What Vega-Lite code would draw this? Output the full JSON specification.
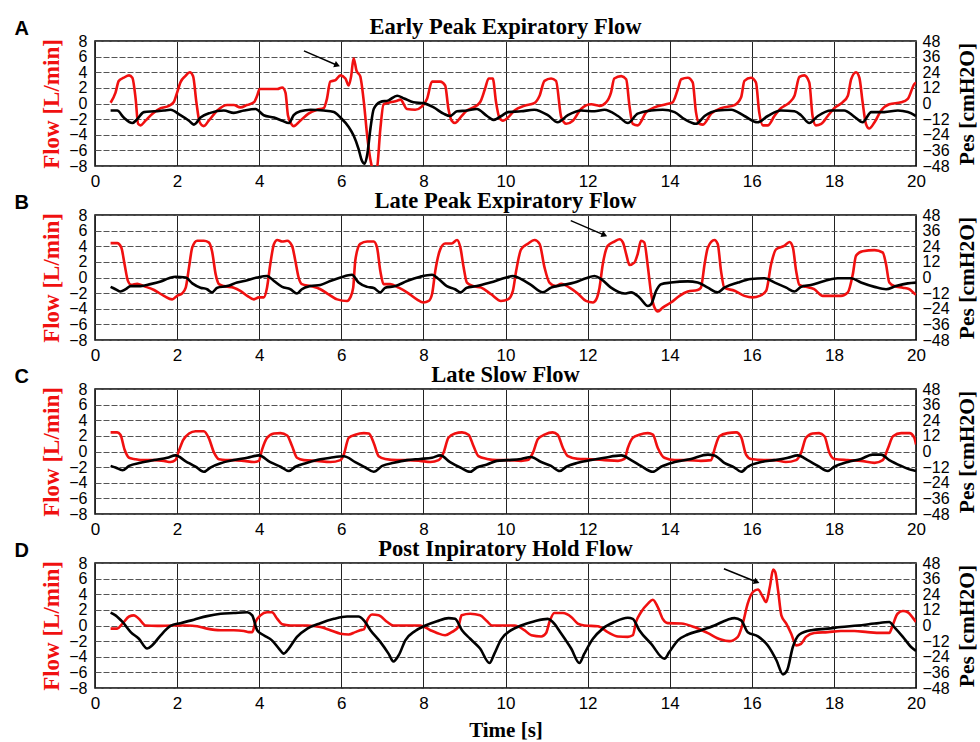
{
"$schema": "https://vega.github.io/schema/vega-lite/v6.json",
"background": "white",
"padding": {"left": 13, "top": 14, "right": 0, "bottom": 0},
"spacing": 49,
"bounds": "flush",
"config": {
 "view": {"stroke": "#000", "strokeWidth": 1.5},
 "title": {"font": "Liberation Serif", "fontWeight": "bold", "fontSize": 22.5, "color": "#000", "anchor": "middle", "frame": "group", "offset": -20},
 "axis": {"labelFont": "Liberation Sans", "labelFontSize": 17, "labelColor": "#000", "labelFlush": false, "labelOverlap": false, "ticks": false, "domain": false, "titleFont": "Liberation Serif", "titleFontWeight": "bold", "titleFontSize": 23, "titleColor": "#000"},
 "axisBottom": {"grid": true, "gridColor": "#222", "gridOpacity": 1, "gridWidth": 1, "labelPadding": 7, "titlePadding": 8, "titleFontSize": 21},
 "axisLeft": {"grid": true, "gridColor": "#555", "gridDash": [6, 2], "gridWidth": 1, "gridOpacity": 1, "labelPadding": 8, "labelFontSize": 16, "titleColor": "#f01010", "titlePadding": 5},
 "axisRight": {"grid": false, "labelPadding": 6, "labelFontSize": 16, "titleAngle": 270, "titlePadding": 29, "titleFontSize": 21.5},
 "axisTop": {"grid": false, "labels": false, "titleFont": "Liberation Sans", "titleFontSize": 20, "titleAngle": 0, "titleX": -81, "titleY": -7, "titleAlign": "left", "titleBaseline": "alphabetic"}
},
"datasets": {
 "arrows": [
  {"panel": "A", "x1": 5.09, "y1": 6.73, "x2": 5.9, "y2": 4.9},
  {"panel": "B", "x1": 11.59, "y1": 7.28, "x2": 12.41, "y2": 5.43},
  {"panel": "D", "x1": 15.32, "y1": 7.27, "x2": 16.12, "y2": 5.57}
 ],
 "A_flow": [{"t":0.38,"v":0.1},{"t":0.5,"v":1.4},{"t":0.58,"v":2.9},{"t":0.7,"v":3.3},{"t":0.83,"v":3.6},{"t":0.91,"v":3.3},{"t":0.99,"v":0.6},{"t":1.05,"v":-2.6},{"t":1.11,"v":-2.8},{"t":1.23,"v":-2.2},{"t":1.4,"v":-1.3},{"t":1.6,"v":-0.6},{"t":1.8,"v":-0.3},{"t":1.92,"v":0.2},{"t":2.0,"v":1.4},{"t":2.08,"v":2.7},{"t":2.2,"v":3.5},{"t":2.31,"v":4.0},{"t":2.39,"v":3.5},{"t":2.47,"v":0.15},{"t":2.55,"v":-2.4},{"t":2.65,"v":-2.9},{"t":2.77,"v":-2.2},{"t":2.98,"v":-0.9},{"t":3.22,"v":-0.2},{"t":3.38,"v":-0.2},{"t":3.54,"v":-0.5},{"t":3.7,"v":-0.2},{"t":3.87,"v":0.15},{"t":3.95,"v":1.0},{"t":4.01,"v":1.85},{"t":4.19,"v":1.85},{"t":4.44,"v":1.85},{"t":4.56,"v":2.05},{"t":4.64,"v":1.4},{"t":4.7,"v":-1.5},{"t":4.78,"v":-2.6},{"t":4.84,"v":-2.9},{"t":5.0,"v":-2.2},{"t":5.2,"v":-1.3},{"t":5.41,"v":-0.8},{"t":5.57,"v":-0.6},{"t":5.65,"v":0.6},{"t":5.73,"v":2.8},{"t":5.86,"v":3.0},{"t":5.98,"v":3.6},{"t":6.1,"v":3.2},{"t":6.18,"v":2.3},{"t":6.24,"v":3.5},{"t":6.3,"v":5.8},{"t":6.37,"v":4.2},{"t":6.46,"v":3.5},{"t":6.55,"v":0.15},{"t":6.63,"v":-4.1},{"t":6.72,"v":-7.5},{"t":6.79,"v":-8.6},{"t":6.87,"v":-8.2},{"t":6.95,"v":-3.3},{"t":7.03,"v":-0.1},{"t":7.19,"v":0.15},{"t":7.36,"v":0.35},{"t":7.44,"v":0.5},{"t":7.6,"v":-0.7},{"t":7.8,"v":-0.8},{"t":7.96,"v":-0.4},{"t":8.09,"v":0.6},{"t":8.21,"v":2.8},{"t":8.41,"v":2.8},{"t":8.53,"v":2.3},{"t":8.61,"v":-0.7},{"t":8.69,"v":-2.2},{"t":8.77,"v":-2.5},{"t":8.9,"v":-1.8},{"t":9.06,"v":-0.9},{"t":9.22,"v":-0.5},{"t":9.38,"v":0.15},{"t":9.5,"v":1.85},{"t":9.59,"v":3.2},{"t":9.69,"v":3.2},{"t":9.77,"v":0.15},{"t":9.85,"v":-1.8},{"t":9.94,"v":-2.2},{"t":10.06,"v":-1.8},{"t":10.22,"v":-0.9},{"t":10.46,"v":-0.3},{"t":10.7,"v":0.05},{"t":10.83,"v":1.0},{"t":10.95,"v":2.9},{"t":11.11,"v":3.2},{"t":11.23,"v":2.9},{"t":11.36,"v":-1.8},{"t":11.48,"v":-2.6},{"t":11.64,"v":-2.2},{"t":11.84,"v":-0.7},{"t":12.09,"v":-0.1},{"t":12.29,"v":-0.3},{"t":12.45,"v":0.15},{"t":12.57,"v":1.4},{"t":12.65,"v":3.2},{"t":12.82,"v":3.5},{"t":12.94,"v":3.1},{"t":13.02,"v":-0.3},{"t":13.1,"v":-2.6},{"t":13.22,"v":-2.8},{"t":13.43,"v":-1.1},{"t":13.63,"v":-0.5},{"t":13.91,"v":-0.1},{"t":14.07,"v":0.15},{"t":14.2,"v":1.85},{"t":14.28,"v":3.1},{"t":14.44,"v":3.3},{"t":14.56,"v":2.7},{"t":14.64,"v":-1.1},{"t":14.72,"v":-2.6},{"t":14.81,"v":-2.7},{"t":15.01,"v":-1.3},{"t":15.25,"v":-0.6},{"t":15.58,"v":-0.2},{"t":15.74,"v":0.8},{"t":15.82,"v":2.9},{"t":15.98,"v":3.3},{"t":16.1,"v":2.7},{"t":16.18,"v":-1.1},{"t":16.27,"v":-2.8},{"t":16.39,"v":-2.8},{"t":16.55,"v":-1.6},{"t":16.71,"v":-0.6},{"t":16.92,"v":0.15},{"t":17.04,"v":1.0},{"t":17.16,"v":3.4},{"t":17.28,"v":3.6},{"t":17.4,"v":2.7},{"t":17.48,"v":-1.6},{"t":17.56,"v":-2.8},{"t":17.69,"v":-2.6},{"t":17.85,"v":-1.6},{"t":18.01,"v":-0.6},{"t":18.21,"v":0.15},{"t":18.34,"v":1.0},{"t":18.42,"v":3.1},{"t":18.54,"v":4.0},{"t":18.62,"v":3.3},{"t":18.7,"v":0.15},{"t":18.78,"v":-2.6},{"t":18.86,"v":-3.2},{"t":18.99,"v":-2.4},{"t":19.15,"v":-0.9},{"t":19.35,"v":-0.1},{"t":19.64,"v":0.15},{"t":19.8,"v":0.6},{"t":19.96,"v":2.5},{"t":20.0,"v":2.7}],
 "A_pes": [{"t":0.38,"v":-5.4},{"t":0.54,"v":-5.4},{"t":0.7,"v":-10.8},{"t":0.91,"v":-15},{"t":1.03,"v":-12},{"t":1.19,"v":-6.6},{"t":1.44,"v":-6},{"t":1.68,"v":-5.4},{"t":1.84,"v":-4.8},{"t":2.08,"v":-9},{"t":2.29,"v":-13.2},{"t":2.41,"v":-16.2},{"t":2.57,"v":-10.8},{"t":2.81,"v":-7.2},{"t":3.14,"v":-5.4},{"t":3.38,"v":-7.2},{"t":3.63,"v":-5.4},{"t":3.91,"v":-4.2},{"t":4.11,"v":-9},{"t":4.36,"v":-10.8},{"t":4.56,"v":-13.2},{"t":4.72,"v":-15},{"t":4.84,"v":-9},{"t":5.0,"v":-6},{"t":5.25,"v":-4.8},{"t":5.57,"v":-5.4},{"t":5.82,"v":-6.6},{"t":5.98,"v":-10.8},{"t":6.18,"v":-18},{"t":6.3,"v":-24.6},{"t":6.42,"v":-34.8},{"t":6.5,"v":-43.8},{"t":6.57,"v":-46.2},{"t":6.63,"v":-39.6},{"t":6.71,"v":-19.2},{"t":6.79,"v":-4.2},{"t":6.95,"v":1.2},{"t":7.15,"v":2.4},{"t":7.36,"v":6},{"t":7.53,"v":3.9},{"t":7.76,"v":0.9},{"t":8.0,"v":0.3},{"t":8.25,"v":-3},{"t":8.49,"v":-7.8},{"t":8.65,"v":-9.6},{"t":8.82,"v":-6},{"t":9.06,"v":-5.4},{"t":9.3,"v":-4.2},{"t":9.55,"v":-9.6},{"t":9.71,"v":-12.6},{"t":9.9,"v":-9.6},{"t":10.06,"v":-6.6},{"t":10.38,"v":-6},{"t":10.7,"v":-4.8},{"t":11.03,"v":-9},{"t":11.27,"v":-14.4},{"t":11.52,"v":-9},{"t":11.84,"v":-5.4},{"t":12.17,"v":-6},{"t":12.41,"v":-4.8},{"t":12.74,"v":-9.6},{"t":12.98,"v":-15},{"t":13.22,"v":-7.8},{"t":13.55,"v":-5.4},{"t":13.83,"v":-4.8},{"t":14.12,"v":-6.6},{"t":14.36,"v":-12},{"t":14.64,"v":-15.6},{"t":14.85,"v":-9.6},{"t":15.17,"v":-5.4},{"t":15.5,"v":-4.8},{"t":15.82,"v":-9.6},{"t":16.14,"v":-14.4},{"t":16.39,"v":-9.6},{"t":16.71,"v":-5.4},{"t":17.04,"v":-6},{"t":17.2,"v":-9},{"t":17.4,"v":-15},{"t":17.61,"v":-9.6},{"t":17.93,"v":-5.4},{"t":18.25,"v":-5.4},{"t":18.5,"v":-10.2},{"t":18.7,"v":-14.4},{"t":18.91,"v":-6.6},{"t":19.23,"v":-6.6},{"t":19.56,"v":-5.4},{"t":19.8,"v":-6.6},{"t":20.0,"v":-9.6}],
 "B_flow": [{"t":0.38,"v":4.4},{"t":0.54,"v":4.4},{"t":0.64,"v":3.85},{"t":0.72,"v":1.7},{"t":0.8,"v":-0.4},{"t":0.88,"v":-0.95},{"t":1.03,"v":-0.8},{"t":1.19,"v":-1.1},{"t":1.44,"v":-1.6},{"t":1.68,"v":-2.35},{"t":1.88,"v":-2.8},{"t":2.0,"v":-2.35},{"t":2.12,"v":-2.05},{"t":2.21,"v":-1.3},{"t":2.29,"v":1.3},{"t":2.37,"v":3.85},{"t":2.49,"v":4.7},{"t":2.65,"v":4.7},{"t":2.77,"v":4.5},{"t":2.85,"v":3.4},{"t":2.94,"v":0.4},{"t":3.02,"v":-0.85},{"t":3.14,"v":-1.1},{"t":3.38,"v":-1.3},{"t":3.54,"v":-1.7},{"t":3.71,"v":-2.35},{"t":3.87,"v":-2.8},{"t":3.99,"v":-2.55},{"t":4.11,"v":-2.55},{"t":4.19,"v":-1.3},{"t":4.27,"v":1.7},{"t":4.36,"v":4.3},{"t":4.44,"v":4.8},{"t":4.56,"v":4.6},{"t":4.68,"v":4.7},{"t":4.8,"v":4.05},{"t":4.88,"v":2.15},{"t":4.96,"v":0},{"t":5.04,"v":-0.85},{"t":5.25,"v":-1.1},{"t":5.49,"v":-1.5},{"t":5.69,"v":-2.15},{"t":5.9,"v":-2.8},{"t":6.14,"v":-3.0},{"t":6.22,"v":-2.55},{"t":6.29,"v":-1.3},{"t":6.34,"v":2.15},{"t":6.46,"v":4.3},{"t":6.63,"v":4.6},{"t":6.79,"v":4.6},{"t":6.87,"v":3.85},{"t":6.95,"v":0.85},{"t":7.03,"v":-0.85},{"t":7.19,"v":-0.85},{"t":7.4,"v":-1.3},{"t":7.6,"v":-1.9},{"t":7.84,"v":-2.8},{"t":8.0,"v":-3.2},{"t":8.13,"v":-3.0},{"t":8.21,"v":-2.15},{"t":8.29,"v":0.85},{"t":8.41,"v":3.6},{"t":8.53,"v":4.35},{"t":8.69,"v":4.35},{"t":8.82,"v":4.8},{"t":8.9,"v":3.85},{"t":8.98,"v":1.3},{"t":9.06,"v":-0.65},{"t":9.22,"v":-1.1},{"t":9.41,"v":-1.3},{"t":9.65,"v":-2.15},{"t":9.89,"v":-3.0},{"t":10.06,"v":-2.8},{"t":10.18,"v":-1.7},{"t":10.26,"v":0.85},{"t":10.38,"v":3.6},{"t":10.54,"v":4.3},{"t":10.71,"v":4.8},{"t":10.83,"v":4.3},{"t":10.95,"v":1.3},{"t":11.07,"v":-0.65},{"t":11.23,"v":-1.1},{"t":11.36,"v":-0.8},{"t":11.56,"v":-1.3},{"t":11.76,"v":-2.05},{"t":11.96,"v":-3.0},{"t":12.13,"v":-3.2},{"t":12.21,"v":-2.8},{"t":12.29,"v":-1.3},{"t":12.37,"v":1.7},{"t":12.49,"v":4.05},{"t":12.65,"v":4.6},{"t":12.78,"v":4.9},{"t":12.86,"v":4.5},{"t":12.94,"v":3.0},{"t":13.02,"v":1.6},{"t":13.14,"v":1.9},{"t":13.22,"v":3.0},{"t":13.3,"v":4.7},{"t":13.38,"v":4.5},{"t":13.47,"v":1.3},{"t":13.55,"v":-2.15},{"t":13.63,"v":-3.85},{"t":13.71,"v":-4.35},{"t":13.83,"v":-3.85},{"t":14.03,"v":-3.2},{"t":14.24,"v":-2.35},{"t":14.44,"v":-1.8},{"t":14.68,"v":-1.6},{"t":14.76,"v":-1.3},{"t":14.85,"v":1.7},{"t":14.93,"v":3.85},{"t":15.09,"v":4.8},{"t":15.17,"v":4.3},{"t":15.25,"v":0.85},{"t":15.33,"v":-1.3},{"t":15.58,"v":-1.7},{"t":15.82,"v":-2.35},{"t":16.02,"v":-2.55},{"t":16.19,"v":-2.35},{"t":16.35,"v":-1.7},{"t":16.47,"v":1.7},{"t":16.59,"v":3.6},{"t":16.79,"v":4.05},{"t":16.92,"v":4.55},{"t":17.0,"v":3.85},{"t":17.08,"v":0.85},{"t":17.16,"v":-0.95},{"t":17.32,"v":-1.2},{"t":17.52,"v":-1.5},{"t":17.73,"v":-2.35},{"t":17.93,"v":-2.35},{"t":18.17,"v":-2.35},{"t":18.34,"v":-1.9},{"t":18.46,"v":0.4},{"t":18.54,"v":2.8},{"t":18.7,"v":3.35},{"t":18.99,"v":3.5},{"t":19.19,"v":3.2},{"t":19.27,"v":1.7},{"t":19.35,"v":-0.65},{"t":19.47,"v":-1.1},{"t":19.68,"v":-1.3},{"t":19.84,"v":-1.5},{"t":19.96,"v":-2.05},{"t":20.0,"v":-2.2}],
 "B_pes": [{"t":0.38,"v":-7.2},{"t":0.5,"v":-9},{"t":0.62,"v":-10.8},{"t":0.75,"v":-9},{"t":0.87,"v":-6.6},{"t":1.11,"v":-6.6},{"t":1.35,"v":-5.1},{"t":1.6,"v":-3},{"t":1.8,"v":-0.6},{"t":1.96,"v":0.6},{"t":2.21,"v":0},{"t":2.37,"v":-4.5},{"t":2.57,"v":-7.8},{"t":2.73,"v":-9},{"t":2.85,"v":-11.4},{"t":2.98,"v":-7.8},{"t":3.22,"v":-6.6},{"t":3.46,"v":-3.9},{"t":3.71,"v":-2.1},{"t":3.95,"v":0},{"t":4.19,"v":1.2},{"t":4.36,"v":-2.7},{"t":4.56,"v":-7.2},{"t":4.76,"v":-9},{"t":4.92,"v":-12.3},{"t":5.04,"v":-9},{"t":5.25,"v":-6.6},{"t":5.49,"v":-5.7},{"t":5.73,"v":-2.7},{"t":5.98,"v":0},{"t":6.26,"v":2.1},{"t":6.42,"v":-3.9},{"t":6.63,"v":-7.2},{"t":6.79,"v":-8.1},{"t":6.95,"v":-11.4},{"t":7.07,"v":-7.8},{"t":7.32,"v":-6.6},{"t":7.6,"v":-2.7},{"t":7.92,"v":0.6},{"t":8.21,"v":2.1},{"t":8.37,"v":-1.2},{"t":8.57,"v":-6.6},{"t":8.77,"v":-9},{"t":8.91,"v":-11.4},{"t":9.06,"v":-7.8},{"t":9.3,"v":-6.6},{"t":9.63,"v":-3.9},{"t":10.02,"v":0},{"t":10.18,"v":1.2},{"t":10.38,"v":-1.2},{"t":10.62,"v":-5.7},{"t":10.91,"v":-11.4},{"t":11.11,"v":-7.8},{"t":11.36,"v":-6},{"t":11.68,"v":-3.9},{"t":11.96,"v":-0.6},{"t":12.17,"v":1.2},{"t":12.33,"v":-1.2},{"t":12.57,"v":-7.8},{"t":12.9,"v":-12.3},{"t":13.06,"v":-11.4},{"t":13.26,"v":-15.3},{"t":13.47,"v":-21.9},{"t":13.55,"v":-20.4},{"t":13.67,"v":-10.2},{"t":13.79,"v":-5.1},{"t":14.03,"v":-3.9},{"t":14.44,"v":-3},{"t":14.68,"v":-3.9},{"t":14.93,"v":-7.8},{"t":15.17,"v":-11.4},{"t":15.33,"v":-7.8},{"t":15.66,"v":-3.9},{"t":15.98,"v":-1.2},{"t":16.31,"v":-0.6},{"t":16.56,"v":-3.9},{"t":16.84,"v":-7.8},{"t":17.04,"v":-10.8},{"t":17.2,"v":-7.2},{"t":17.44,"v":-5.7},{"t":17.77,"v":-2.7},{"t":18.09,"v":-0.6},{"t":18.42,"v":-0.6},{"t":18.66,"v":-3.9},{"t":18.99,"v":-7.2},{"t":19.27,"v":-9},{"t":19.51,"v":-6.6},{"t":19.8,"v":-4.5},{"t":20.0,"v":-3.9}],
 "C_flow": [{"t":0.38,"v":2.45},{"t":0.54,"v":2.45},{"t":0.62,"v":2.15},{"t":0.72,"v":0.25},{"t":0.83,"v":-0.8},{"t":0.95,"v":-0.95},{"t":1.11,"v":-1.1},{"t":1.44,"v":-1.1},{"t":1.68,"v":-1.2},{"t":1.84,"v":-1.35},{"t":1.96,"v":-1.1},{"t":2.04,"v":0.05},{"t":2.15,"v":1.5},{"t":2.29,"v":2.3},{"t":2.45,"v":2.6},{"t":2.65,"v":2.6},{"t":2.77,"v":1.75},{"t":2.9,"v":-0.15},{"t":3.02,"v":-1.0},{"t":3.18,"v":-1.1},{"t":3.38,"v":-1.1},{"t":3.63,"v":-1.2},{"t":3.87,"v":-1.35},{"t":3.99,"v":-1.2},{"t":4.07,"v":0.25},{"t":4.19,"v":1.75},{"t":4.36,"v":2.3},{"t":4.52,"v":2.35},{"t":4.68,"v":2.05},{"t":4.8,"v":0.7},{"t":4.92,"v":-0.8},{"t":5.09,"v":-1.1},{"t":5.41,"v":-1.2},{"t":5.73,"v":-1.35},{"t":5.98,"v":-1.1},{"t":6.06,"v":-0.4},{"t":6.18,"v":1.75},{"t":6.34,"v":2.15},{"t":6.55,"v":2.35},{"t":6.67,"v":2.3},{"t":6.79,"v":1.1},{"t":6.91,"v":-0.6},{"t":7.07,"v":-0.95},{"t":7.36,"v":-1.1},{"t":7.64,"v":-1.1},{"t":7.92,"v":-1.2},{"t":8.17,"v":-1.35},{"t":8.37,"v":-1.1},{"t":8.49,"v":-0.15},{"t":8.61,"v":1.75},{"t":8.77,"v":2.3},{"t":8.94,"v":2.45},{"t":9.1,"v":2.15},{"t":9.22,"v":0.7},{"t":9.34,"v":-0.6},{"t":9.55,"v":-0.95},{"t":9.79,"v":-1.1},{"t":10.06,"v":-1.1},{"t":10.38,"v":-1.2},{"t":10.54,"v":-1.1},{"t":10.67,"v":-0.15},{"t":10.79,"v":1.6},{"t":10.95,"v":2.15},{"t":11.15,"v":2.45},{"t":11.27,"v":2.15},{"t":11.4,"v":0.45},{"t":11.52,"v":-0.6},{"t":11.76,"v":-0.95},{"t":12.09,"v":-1.0},{"t":12.41,"v":-1.1},{"t":12.74,"v":-1.2},{"t":12.9,"v":-0.95},{"t":12.98,"v":0.45},{"t":13.1,"v":1.75},{"t":13.26,"v":2.15},{"t":13.47,"v":2.35},{"t":13.59,"v":2.15},{"t":13.71,"v":0.45},{"t":13.87,"v":-0.8},{"t":14.12,"v":-1.1},{"t":14.44,"v":-1.1},{"t":14.76,"v":-1.2},{"t":15.01,"v":-1.1},{"t":15.09,"v":0.25},{"t":15.21,"v":1.95},{"t":15.41,"v":2.35},{"t":15.62,"v":2.45},{"t":15.74,"v":1.85},{"t":15.86,"v":-0.4},{"t":15.98,"v":-0.95},{"t":16.31,"v":-1.1},{"t":16.55,"v":-1.1},{"t":16.83,"v":-1.35},{"t":17.08,"v":-1.1},{"t":17.2,"v":-0.15},{"t":17.32,"v":1.75},{"t":17.48,"v":2.3},{"t":17.64,"v":2.35},{"t":17.77,"v":1.95},{"t":17.89,"v":-0.15},{"t":18.01,"v":-0.95},{"t":18.34,"v":-1.1},{"t":18.66,"v":-1.2},{"t":18.99,"v":-1.45},{"t":19.19,"v":-1.1},{"t":19.32,"v":0.45},{"t":19.44,"v":1.95},{"t":19.64,"v":2.35},{"t":19.84,"v":2.35},{"t":19.96,"v":1.75},{"t":20.0,"v":0.9}],
 "C_pes": [{"t":0.38,"v":-11.1},{"t":0.5,"v":-12.3},{"t":0.67,"v":-14.4},{"t":0.83,"v":-11.1},{"t":1.11,"v":-8.7},{"t":1.44,"v":-6.6},{"t":1.76,"v":-4.8},{"t":1.96,"v":-3},{"t":2.21,"v":-7.5},{"t":2.45,"v":-11.7},{"t":2.65,"v":-15.6},{"t":2.81,"v":-12.3},{"t":3.06,"v":-9},{"t":3.38,"v":-6.6},{"t":3.71,"v":-4.8},{"t":3.99,"v":-3},{"t":4.27,"v":-8.1},{"t":4.52,"v":-11.7},{"t":4.72,"v":-15},{"t":4.88,"v":-11.7},{"t":5.17,"v":-8.7},{"t":5.49,"v":-6},{"t":5.73,"v":-4.8},{"t":6.06,"v":-3.6},{"t":6.34,"v":-8.1},{"t":6.59,"v":-12.3},{"t":6.79,"v":-15.6},{"t":7.0,"v":-11.1},{"t":7.28,"v":-8.7},{"t":7.6,"v":-6.6},{"t":7.92,"v":-5.7},{"t":8.21,"v":-4.8},{"t":8.41,"v":-3},{"t":8.65,"v":-8.1},{"t":8.9,"v":-12.3},{"t":9.14,"v":-15.6},{"t":9.3,"v":-12.3},{"t":9.55,"v":-9.9},{"t":9.79,"v":-7.2},{"t":10.06,"v":-6.6},{"t":10.38,"v":-5.7},{"t":10.62,"v":-4.2},{"t":10.87,"v":-8.1},{"t":11.11,"v":-11.1},{"t":11.32,"v":-15},{"t":11.48,"v":-11.7},{"t":11.76,"v":-8.7},{"t":12.09,"v":-6.6},{"t":12.41,"v":-4.8},{"t":12.82,"v":-3},{"t":13.06,"v":-6.6},{"t":13.3,"v":-11.1},{"t":13.59,"v":-15.6},{"t":13.79,"v":-11.7},{"t":14.12,"v":-8.1},{"t":14.52,"v":-5.7},{"t":14.93,"v":-2.4},{"t":15.09,"v":-3},{"t":15.33,"v":-8.7},{"t":15.58,"v":-12.3},{"t":15.74,"v":-15.6},{"t":15.9,"v":-11.7},{"t":16.23,"v":-8.1},{"t":16.55,"v":-6.6},{"t":16.88,"v":-4.8},{"t":17.12,"v":-3},{"t":17.36,"v":-6.6},{"t":17.61,"v":-11.1},{"t":17.85,"v":-15},{"t":18.01,"v":-11.7},{"t":18.34,"v":-8.1},{"t":18.66,"v":-5.7},{"t":18.94,"v":-2.4},{"t":19.15,"v":-2.4},{"t":19.35,"v":-6.6},{"t":19.64,"v":-11.1},{"t":19.88,"v":-14.1},{"t":20.0,"v":-15}],
 "D_flow": [{"t":0.38,"v":-0.4},{"t":0.54,"v":-0.4},{"t":0.67,"v":0.25},{"t":0.83,"v":1.15},{"t":0.95,"v":1.3},{"t":1.07,"v":0.85},{"t":1.23,"v":0},{"t":1.52,"v":-0.05},{"t":1.92,"v":0},{"t":2.25,"v":0},{"t":2.49,"v":-0.1},{"t":2.73,"v":-0.4},{"t":3.06,"v":-0.6},{"t":3.38,"v":-0.6},{"t":3.63,"v":-0.7},{"t":3.75,"v":-0.85},{"t":3.83,"v":-0.85},{"t":3.91,"v":0.45},{"t":4.03,"v":1.3},{"t":4.19,"v":1.7},{"t":4.31,"v":1.7},{"t":4.44,"v":0.85},{"t":4.56,"v":0.15},{"t":4.76,"v":0},{"t":5.17,"v":0},{"t":5.49,"v":-0.2},{"t":5.73,"v":-0.6},{"t":5.98,"v":-1.05},{"t":6.18,"v":-1.15},{"t":6.34,"v":-0.85},{"t":6.46,"v":-0.6},{"t":6.55,"v":-0.5},{"t":6.63,"v":0.65},{"t":6.75,"v":1.4},{"t":6.91,"v":1.3},{"t":7.12,"v":0.45},{"t":7.27,"v":0},{"t":7.6,"v":0},{"t":7.92,"v":0},{"t":8.17,"v":-0.6},{"t":8.33,"v":-0.95},{"t":8.53,"v":-1.25},{"t":8.69,"v":-0.85},{"t":8.85,"v":-0.2},{"t":8.93,"v":1.3},{"t":9.14,"v":1.5},{"t":9.38,"v":1.3},{"t":9.55,"v":0.55},{"t":9.67,"v":0},{"t":9.89,"v":0},{"t":10.22,"v":0},{"t":10.46,"v":-0.6},{"t":10.63,"v":-1.25},{"t":10.87,"v":-1.4},{"t":10.99,"v":-0.95},{"t":11.07,"v":0.45},{"t":11.19,"v":1.6},{"t":11.4,"v":1.6},{"t":11.6,"v":1.1},{"t":11.76,"v":0.25},{"t":11.92,"v":0},{"t":12.25,"v":-0.1},{"t":12.49,"v":-0.85},{"t":12.74,"v":-1.4},{"t":12.98,"v":-1.45},{"t":13.1,"v":-1.25},{"t":13.18,"v":0.45},{"t":13.3,"v":1.7},{"t":13.47,"v":2.8},{"t":13.59,"v":3.3},{"t":13.71,"v":2.35},{"t":13.83,"v":0.85},{"t":13.95,"v":0.3},{"t":14.28,"v":0.25},{"t":14.6,"v":-0.2},{"t":14.92,"v":-0.95},{"t":15.25,"v":-1.8},{"t":15.45,"v":-2.0},{"t":15.66,"v":-1.45},{"t":15.78,"v":0.25},{"t":15.9,"v":2.8},{"t":16.03,"v":4.3},{"t":16.15,"v":4.6},{"t":16.27,"v":3.65},{"t":16.35,"v":3.0},{"t":16.44,"v":4.95},{"t":16.52,"v":7.15},{"t":16.57,"v":6.85},{"t":16.64,"v":4.5},{"t":16.72,"v":1.3},{"t":16.84,"v":0.25},{"t":16.96,"v":-1.05},{"t":17.08,"v":-2.55},{"t":17.2,"v":-2.35},{"t":17.32,"v":-1.45},{"t":17.52,"v":-0.95},{"t":17.85,"v":-0.85},{"t":18.17,"v":-0.7},{"t":18.5,"v":-0.7},{"t":18.82,"v":-0.85},{"t":19.15,"v":-0.95},{"t":19.35,"v":-0.95},{"t":19.43,"v":0},{"t":19.55,"v":1.5},{"t":19.68,"v":1.85},{"t":19.8,"v":1.7},{"t":19.92,"v":1.0},{"t":20.0,"v":0.45}],
 "D_pes": [{"t":0.38,"v":9.9},{"t":0.5,"v":7.8},{"t":0.67,"v":2.7},{"t":0.87,"v":-5.1},{"t":1.07,"v":-10.2},{"t":1.27,"v":-17.7},{"t":1.39,"v":-15.3},{"t":1.6,"v":-7.5},{"t":1.84,"v":-0.3},{"t":2.08,"v":1.8},{"t":2.41,"v":4.5},{"t":2.73,"v":7.2},{"t":3.06,"v":9},{"t":3.38,"v":9.6},{"t":3.71,"v":10.2},{"t":3.83,"v":7.8},{"t":3.95,"v":-3.6},{"t":4.11,"v":-7.5},{"t":4.31,"v":-11.4},{"t":4.48,"v":-17.7},{"t":4.6,"v":-21.6},{"t":4.72,"v":-17.7},{"t":4.92,"v":-8.7},{"t":5.17,"v":-2.4},{"t":5.49,"v":1.8},{"t":5.82,"v":5.1},{"t":6.14,"v":6.9},{"t":6.42,"v":6.9},{"t":6.55,"v":3.9},{"t":6.71,"v":-3.6},{"t":6.95,"v":-12.6},{"t":7.15,"v":-21.6},{"t":7.27,"v":-27.6},{"t":7.4,"v":-22.8},{"t":7.56,"v":-11.4},{"t":7.8,"v":-4.2},{"t":8.05,"v":0},{"t":8.33,"v":3.3},{"t":8.61,"v":5.7},{"t":8.77,"v":5.1},{"t":8.94,"v":-3.6},{"t":9.14,"v":-10.2},{"t":9.38,"v":-17.7},{"t":9.61,"v":-28.8},{"t":9.73,"v":-21.6},{"t":9.89,"v":-10.8},{"t":10.14,"v":-3.6},{"t":10.38,"v":0},{"t":10.71,"v":3.3},{"t":11.03,"v":5.1},{"t":11.15,"v":2.7},{"t":11.36,"v":-6.3},{"t":11.6,"v":-17.7},{"t":11.8,"v":-28.8},{"t":11.92,"v":-21.6},{"t":12.13,"v":-10.2},{"t":12.37,"v":-2.4},{"t":12.65,"v":2.7},{"t":12.98,"v":6},{"t":13.1,"v":5.1},{"t":13.26,"v":-3.6},{"t":13.55,"v":-14.1},{"t":13.87,"v":-25.5},{"t":13.99,"v":-20.4},{"t":14.2,"v":-11.4},{"t":14.44,"v":-6.9},{"t":14.77,"v":-3.6},{"t":15.09,"v":0},{"t":15.41,"v":4.5},{"t":15.58,"v":5.7},{"t":15.74,"v":3.9},{"t":15.9,"v":-5.1},{"t":16.15,"v":-8.4},{"t":16.39,"v":-15.3},{"t":16.6,"v":-26.7},{"t":16.76,"v":-37.5},{"t":16.86,"v":-34.5},{"t":17.0,"v":-16.5},{"t":17.16,"v":-6.9},{"t":17.45,"v":-3.6},{"t":17.85,"v":-2.4},{"t":18.17,"v":-1.2},{"t":18.58,"v":0},{"t":18.99,"v":1.5},{"t":19.35,"v":2.7},{"t":19.47,"v":-1.2},{"t":19.68,"v":-8.7},{"t":19.88,"v":-16.5},{"t":20.0,"v":-19.5}]
},
"vconcat": [
 {
  "width": 821, "height": 125,
  "title": {"text": "Early Peak Expiratory Flow"},
  "resolve": {"scale": {"y": "independent"}, "axis": {"x": "independent", "y": "independent"}},
  "layer": [
   {"data": {"name": "A_flow"}, "mark": {"type": "line", "color": "#f01010", "strokeWidth": 2.6, "clip": true, "interpolate": "monotone"},
    "encoding": {"x": {"field": "t", "type": "quantitative", "scale": {"domain": [0, 20], "nice": false}, "axis": {"orient": "bottom", "values": [0,2,4,6,8,10,12,14,16,18,20], "title": null}},
                 "y": {"field": "v", "type": "quantitative", "scale": {"domain": [-8, 8], "nice": false}, "axis": {"orient": "left", "values": [-8,-6,-4,-2,0,2,4,6,8], "title": "Flow [L/min]"}}}},
   {"data": {"name": "A_pes"}, "mark": {"type": "line", "color": "#000", "strokeWidth": 2.6, "clip": true, "interpolate": "monotone"},
    "encoding": {"x": {"field": "t", "type": "quantitative", "scale": {"domain": [0, 20], "nice": false}, "axis": {"orient": "top", "title": "A"}},
                 "y": {"field": "v", "type": "quantitative", "scale": {"domain": [-48, 48], "nice": false}, "axis": {"orient": "right", "values": [-48,-36,-24,-12,0,12,24,36,48], "title": "Pes [cmH2O]"}}}},
   {"data": {"name": "arrows"}, "transform": [{"filter": "datum.panel === 'A'"}], "mark": {"type": "rule", "color": "#000", "strokeWidth": 1.5},
    "encoding": {"x": {"field": "x1", "type": "quantitative", "scale": {"domain": [0, 20], "nice": false}, "axis": null}, "x2": {"field": "x2"},
                 "y": {"field": "y1", "type": "quantitative", "scale": {"domain": [-8, 8], "nice": false}, "axis": null}, "y2": {"field": "y2"}}},
   {"data": {"name": "arrows"}, "transform": [{"filter": "datum.panel === 'A'"}], "mark": {"type": "point", "shape": "triangle-right", "filled": true, "color": "#000", "opacity": 1, "size": 45, "angle": 23},
    "encoding": {"x": {"field": "x2", "type": "quantitative", "scale": {"domain": [0, 20], "nice": false}, "axis": null},
                 "y": {"field": "y2", "type": "quantitative", "scale": {"domain": [-8, 8], "nice": false}, "axis": null}}}
  ]
 },
 {
  "width": 821, "height": 125,
  "title": {"text": "Late Peak Expiratory Flow"},
  "resolve": {"scale": {"y": "independent"}, "axis": {"x": "independent", "y": "independent"}},
  "layer": [
   {"data": {"name": "B_flow"}, "mark": {"type": "line", "color": "#f01010", "strokeWidth": 2.6, "clip": true, "interpolate": "monotone"},
    "encoding": {"x": {"field": "t", "type": "quantitative", "scale": {"domain": [0, 20], "nice": false}, "axis": {"orient": "bottom", "values": [0,2,4,6,8,10,12,14,16,18,20], "title": null}},
                 "y": {"field": "v", "type": "quantitative", "scale": {"domain": [-8, 8], "nice": false}, "axis": {"orient": "left", "values": [-8,-6,-4,-2,0,2,4,6,8], "title": "Flow [L/min]"}}}},
   {"data": {"name": "B_pes"}, "mark": {"type": "line", "color": "#000", "strokeWidth": 2.6, "clip": true, "interpolate": "monotone"},
    "encoding": {"x": {"field": "t", "type": "quantitative", "scale": {"domain": [0, 20], "nice": false}, "axis": {"orient": "top", "title": "B"}},
                 "y": {"field": "v", "type": "quantitative", "scale": {"domain": [-48, 48], "nice": false}, "axis": {"orient": "right", "values": [-48,-36,-24,-12,0,12,24,36,48], "title": "Pes [cmH2O]"}}}},
   {"data": {"name": "arrows"}, "transform": [{"filter": "datum.panel === 'B'"}], "mark": {"type": "rule", "color": "#000", "strokeWidth": 1.5},
    "encoding": {"x": {"field": "x1", "type": "quantitative", "scale": {"domain": [0, 20], "nice": false}, "axis": null}, "x2": {"field": "x2"},
                 "y": {"field": "y1", "type": "quantitative", "scale": {"domain": [-8, 8], "nice": false}, "axis": null}, "y2": {"field": "y2"}}},
   {"data": {"name": "arrows"}, "transform": [{"filter": "datum.panel === 'B'"}], "mark": {"type": "point", "shape": "triangle-right", "filled": true, "color": "#000", "opacity": 1, "size": 45, "angle": 23},
    "encoding": {"x": {"field": "x2", "type": "quantitative", "scale": {"domain": [0, 20], "nice": false}, "axis": null},
                 "y": {"field": "y2", "type": "quantitative", "scale": {"domain": [-8, 8], "nice": false}, "axis": null}}}
  ]
 },
 {
  "width": 821, "height": 125,
  "title": {"text": "Late Slow Flow"},
  "resolve": {"scale": {"y": "independent"}, "axis": {"x": "independent", "y": "independent"}},
  "layer": [
   {"data": {"name": "C_flow"}, "mark": {"type": "line", "color": "#f01010", "strokeWidth": 2.6, "clip": true, "interpolate": "monotone"},
    "encoding": {"x": {"field": "t", "type": "quantitative", "scale": {"domain": [0, 20], "nice": false}, "axis": {"orient": "bottom", "values": [0,2,4,6,8,10,12,14,16,18,20], "title": null}},
                 "y": {"field": "v", "type": "quantitative", "scale": {"domain": [-8, 8], "nice": false}, "axis": {"orient": "left", "values": [-8,-6,-4,-2,0,2,4,6,8], "title": "Flow [L/min]"}}}},
   {"data": {"name": "C_pes"}, "mark": {"type": "line", "color": "#000", "strokeWidth": 2.6, "clip": true, "interpolate": "monotone"},
    "encoding": {"x": {"field": "t", "type": "quantitative", "scale": {"domain": [0, 20], "nice": false}, "axis": {"orient": "top", "title": "C"}},
                 "y": {"field": "v", "type": "quantitative", "scale": {"domain": [-48, 48], "nice": false}, "axis": {"orient": "right", "values": [-48,-36,-24,-12,0,12,24,36,48], "title": "Pes [cmH2O]"}}}}
  ]
 },
 {
  "width": 821, "height": 125,
  "title": {"text": "Post Inpiratory Hold Flow"},
  "resolve": {"scale": {"y": "independent"}, "axis": {"x": "independent", "y": "independent"}},
  "layer": [
   {"data": {"name": "D_flow"}, "mark": {"type": "line", "color": "#f01010", "strokeWidth": 2.6, "clip": true, "interpolate": "monotone"},
    "encoding": {"x": {"field": "t", "type": "quantitative", "scale": {"domain": [0, 20], "nice": false}, "axis": {"orient": "bottom", "values": [0,2,4,6,8,10,12,14,16,18,20], "title": "Time [s]"}},
                 "y": {"field": "v", "type": "quantitative", "scale": {"domain": [-8, 8], "nice": false}, "axis": {"orient": "left", "values": [-8,-6,-4,-2,0,2,4,6,8], "title": "Flow [L/min]"}}}},
   {"data": {"name": "D_pes"}, "mark": {"type": "line", "color": "#000", "strokeWidth": 2.6, "clip": true, "interpolate": "monotone"},
    "encoding": {"x": {"field": "t", "type": "quantitative", "scale": {"domain": [0, 20], "nice": false}, "axis": {"orient": "top", "title": "D"}},
                 "y": {"field": "v", "type": "quantitative", "scale": {"domain": [-48, 48], "nice": false}, "axis": {"orient": "right", "values": [-48,-36,-24,-12,0,12,24,36,48], "title": "Pes [cmH2O]"}}}},
   {"data": {"name": "arrows"}, "transform": [{"filter": "datum.panel === 'D'"}], "mark": {"type": "rule", "color": "#000", "strokeWidth": 1.5},
    "encoding": {"x": {"field": "x1", "type": "quantitative", "scale": {"domain": [0, 20], "nice": false}, "axis": null}, "x2": {"field": "x2"},
                 "y": {"field": "y1", "type": "quantitative", "scale": {"domain": [-8, 8], "nice": false}, "axis": null}, "y2": {"field": "y2"}}},
   {"data": {"name": "arrows"}, "transform": [{"filter": "datum.panel === 'D'"}], "mark": {"type": "point", "shape": "triangle-right", "filled": true, "color": "#000", "opacity": 1, "size": 45, "angle": 22},
    "encoding": {"x": {"field": "x2", "type": "quantitative", "scale": {"domain": [0, 20], "nice": false}, "axis": null},
                 "y": {"field": "y2", "type": "quantitative", "scale": {"domain": [-8, 8], "nice": false}, "axis": null}}}
  ]
 }
]
}
